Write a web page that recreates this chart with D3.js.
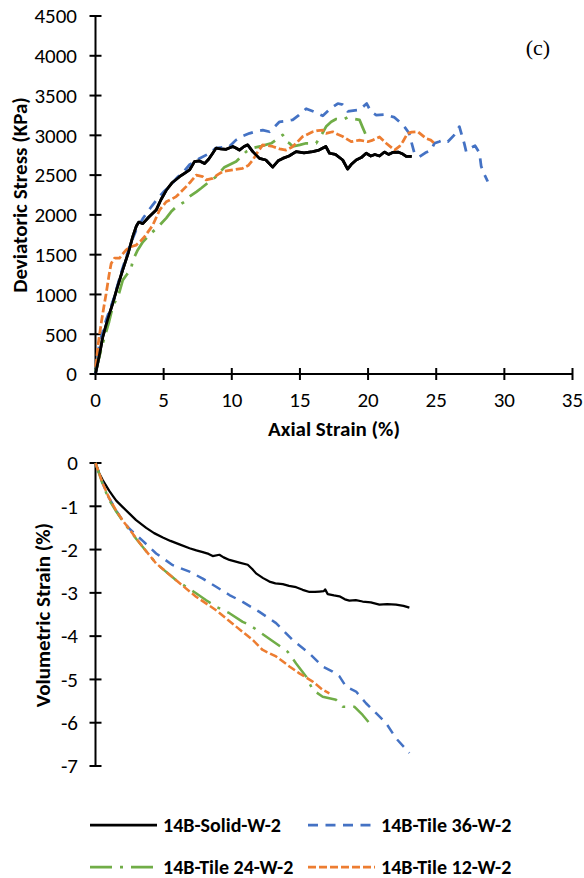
<!DOCTYPE html>
<html>
<head>
<meta charset="utf-8">
<script src="https://cdn.jsdelivr.net/npm/d3@7"></script>
<style>
  html, body { margin: 0; padding: 0; background: #fff; }
  svg { display: block; }
  text { font-family: "Carlito", "Calibri", "Lato", "Open Sans", sans-serif; fill: #000; }
</style>
</head>
<body>
<svg id="chart" width="584" height="878"></svg>
<script>
// ---------- DATA ----------
const seriesNames = ["14B-Solid-W-2", "14B-Tile 36-W-2", "14B-Tile 24-W-2", "14B-Tile 12-W-2"];
const xTicks = [0, 5, 10, 15, 20, 25, 30, 35];
const stressTicks = [0, 500, 1000, 1500, 2000, 2500, 3000, 3500, 4000, 4500];
const volTicks = [0, -1, -2, -3, -4, -5, -6, -7];

// Deviatoric stress (KPa) vs axial strain (%)
const stressSolid = [[0,0],[0.3,250],[0.54,470],[0.9,690],[1.27,890],[1.6,1090],[2.0,1310],[2.4,1520],[2.74,1730],[3.0,1860],[3.18,1910],[3.47,1890],[3.9,1970],[4.45,2060],[4.8,2190],[5.19,2310],[5.6,2400],[6.16,2480],[6.5,2520],[6.9,2565],[7.26,2670],[7.6,2680],[8.0,2645],[8.3,2700],[8.6,2775],[8.85,2840],[9.2,2830],[9.59,2825],[10.07,2860],[10.3,2840],[10.56,2815],[10.9,2860],[11.17,2880],[11.54,2795],[12.03,2710],[12.5,2690],[13.0,2600],[13.4,2680],[13.74,2710],[14.2,2740],[14.72,2795],[15.3,2780],[15.94,2795],[16.4,2815],[16.9,2860],[17.17,2775],[17.6,2760],[18.14,2690],[18.5,2575],[18.8,2640],[19.13,2690],[19.5,2720],[19.86,2775],[20.2,2740],[20.5,2760],[20.84,2740],[21.2,2790],[21.5,2760],[21.8,2785],[22.2,2790],[22.55,2765],[22.8,2735],[23.2,2735]];
const stressTile36 = [[0,0],[0.29,390],[0.8,690],[1.39,970],[1.8,1230],[2.25,1470],[2.6,1650],[2.98,1810],[3.5,1960],[4.0,2080],[4.45,2180],[5.0,2290],[5.43,2355],[6.0,2470],[6.4,2530],[6.9,2630],[7.63,2710],[8.2,2760],[8.85,2840],[9.3,2850],[9.83,2860],[10.3,2940],[10.8,2990],[11.3,3025],[11.8,3050],[12.27,3065],[12.77,3045],[13.1,3100],[13.5,3170],[14.0,3180],[14.47,3195],[14.9,3250],[15.46,3335],[16.0,3300],[16.68,3245],[17.2,3330],[17.78,3400],[18.14,3385],[18.5,3300],[18.9,3310],[19.37,3320],[19.9,3400],[20.2,3300],[20.6,3255],[21.3,3260],[21.94,3225],[22.3,3170],[22.7,3100],[23.0,3030],[23.4,2775],[23.77,2730],[24.2,2780],[24.6,2810],[24.87,2900],[25.2,2920],[25.5,2940],[25.85,2920],[26.3,3000],[26.7,3110],[27.07,2890],[27.2,2795],[27.5,2840],[27.85,2870],[28.17,2780],[28.3,2610],[28.5,2520],[28.78,2420]];
const stressTile24 = [[0,30],[0.54,390],[1.0,660],[1.27,850],[1.71,1005],[2.0,1180],[2.3,1250],[2.62,1330],[2.74,1430],[3.1,1560],[3.47,1660],[4.08,1770],[4.57,1845],[5.19,1960],[5.6,2050],[5.92,2100],[6.53,2165],[6.9,2230],[7.4,2290],[7.75,2335],[8.3,2410],[8.85,2480],[9.46,2600],[10.32,2670],[11.06,2795],[11.54,2840],[12.16,2865],[12.89,2900],[13.3,2950],[13.74,3005],[14.0,2920],[14.23,2900],[14.47,2860],[15.0,2880],[15.46,2900],[16.19,2900],[16.5,2980],[16.92,3110],[17.3,3170],[17.66,3205],[18.14,3195],[18.5,3225],[18.9,3210],[19.37,3195],[19.6,3100],[19.8,3020]];
const stressTile12 = [[0,90],[0.05,130],[0.2,380],[0.42,640],[0.6,830],[0.78,1010],[1.0,1250],[1.15,1390],[1.39,1455],[1.76,1455],[2.0,1510],[2.25,1560],[2.6,1600],[2.98,1620],[3.3,1670],[3.6,1725],[4.2,1870],[4.7,2060],[5.19,2165],[5.6,2200],[5.92,2230],[6.16,2270],[6.65,2355],[7.0,2420],[7.39,2500],[7.87,2480],[8.12,2440],[8.6,2460],[9.0,2510],[9.34,2545],[10.07,2565],[10.8,2585],[11.2,2620],[11.54,2690],[11.9,2790],[12.27,2880],[13.0,2860],[13.5,2830],[13.99,2815],[14.4,2850],[14.72,2900],[15.2,2985],[15.46,3005],[15.94,3045],[16.3,3060],[16.68,3065],[16.92,3025],[17.4,3045],[17.8,3010],[18.14,2985],[18.76,2920],[19.37,2940],[19.98,2920],[20.35,2940],[20.84,2980],[21.33,2900],[21.94,2815],[22.3,2860],[22.55,2920],[22.9,3025],[23.2,3040],[23.65,3045],[24.26,2960],[24.6,2940],[24.87,2900]];

// Volumetric strain (%) vs axial strain (%)
const volSolid = [[0,0],[0.29,-0.25],[0.54,-0.40],[0.73,-0.5],[1.0,-0.64],[1.27,-0.76],[1.52,-0.87],[2.0,-1.02],[2.49,-1.17],[2.98,-1.32],[3.72,-1.5],[4.3,-1.62],[4.94,-1.72],[5.5,-1.8],[6.16,-1.88],[6.9,-1.97],[7.4,-2.02],[7.87,-2.06],[8.3,-2.1],[8.6,-2.15],[9.09,-2.12],[9.4,-2.18],[9.83,-2.24],[10.56,-2.3],[11.17,-2.35],[11.5,-2.45],[11.78,-2.55],[12.3,-2.66],[12.76,-2.74],[13.2,-2.78],[13.74,-2.8],[14.2,-2.84],[14.72,-2.87],[15.2,-2.93],[15.7,-2.98],[16.1,-2.98],[16.43,-2.97],[16.75,-2.96],[16.85,-2.92],[17.04,-3.03],[17.5,-3.06],[17.9,-3.08],[18.3,-3.15],[18.63,-3.18],[19.1,-3.17],[19.6,-3.2],[20.2,-3.22],[20.83,-3.27],[21.4,-3.26],[22.05,-3.27],[22.6,-3.3],[23.03,-3.34]];
const volTile36 = [[0,0],[0.54,-0.48],[0.98,-0.8],[1.52,-1.1],[2.0,-1.33],[2.49,-1.52],[2.98,-1.66],[3.47,-1.8],[4.45,-2.09],[5.67,-2.36],[6.9,-2.51],[7.87,-2.67],[8.85,-2.86],[9.83,-3.05],[10.8,-3.21],[12.03,-3.44],[13.25,-3.7],[14.47,-4.09],[15.7,-4.4],[16.67,-4.7],[17.4,-4.82],[17.9,-4.93],[18.39,-5.17],[19.12,-5.28],[19.85,-5.55],[20.59,-5.78],[21.32,-6.01],[22.05,-6.36],[23.03,-6.7]];
const volTile24 = [[0,0],[0.54,-0.5],[0.98,-0.84],[1.52,-1.12],[2.0,-1.34],[2.49,-1.55],[2.98,-1.75],[3.47,-1.94],[4.45,-2.32],[5.92,-2.71],[7.38,-3.01],[8.12,-3.17],[8.85,-3.32],[9.83,-3.47],[10.8,-3.67],[11.3,-3.74],[12.03,-3.9],[13.25,-4.17],[14.1,-4.36],[14.72,-4.63],[15.45,-4.93],[15.94,-5.24],[16.67,-5.4],[17.65,-5.47],[18.14,-5.63],[18.99,-5.63],[19.6,-5.82],[20.1,-6.01]];
const volTile12 = [[0,0],[0.54,-0.48],[0.98,-0.8],[1.52,-1.1],[2.0,-1.33],[2.49,-1.53],[2.98,-1.74],[3.47,-1.94],[4.45,-2.32],[5.92,-2.71],[7.38,-3.09],[8.85,-3.4],[10.32,-3.78],[11.54,-4.09],[12.27,-4.32],[13.25,-4.47],[14.23,-4.7],[14.96,-4.86],[15.94,-5.05],[16.67,-5.24],[17.16,-5.32]];

// ---------- STYLE ----------
const colors = ["#000000", "#4472C4", "#70AD47", "#ED7D31"];
const dashes = [null, "10,7.5", "22,8,3,8", "8,3"];

const svg = d3.select("#chart");

const x = d3.scaleLinear().domain([0, 35]).range([95.5, 572.5]);
const yTop = d3.scaleLinear().domain([0, 4500]).range([374, 16]);
const yBot = d3.scaleLinear().domain([0, -7]).range([463, 766]);

function crossTicks(g, scale, vals, orient, pos) {
  vals.forEach(v => {
    if (orient === "y") {
      g.append("line").attr("x1", pos - 6).attr("x2", pos + 6)
        .attr("y1", scale(v)).attr("y2", scale(v))
        .attr("stroke", "#000").attr("stroke-width", 2);
    } else {
      g.append("line").attr("y1", pos - 6).attr("y2", pos + 6)
        .attr("x1", scale(v)).attr("x2", scale(v))
        .attr("stroke", "#000").attr("stroke-width", 2);
    }
  });
}

// ---------- TOP CHART ----------
const gTop = svg.append("g");
gTop.append("line").attr("x1", x(0)).attr("x2", x(0)).attr("y1", yTop(0)).attr("y2", yTop(4500))
  .attr("stroke", "#000").attr("stroke-width", 2);
crossTicks(gTop, yTop, stressTicks, "y", x(0));
gTop.selectAll("text.yt").data(stressTicks).enter().append("text")
  .attr("x", 77).attr("y", d => yTop(d)).attr("dy", "0.35em")
  .attr("text-anchor", "end").attr("font-size", 21).text(d => d);
gTop.append("line").attr("x1", x(0)).attr("x2", x(35)).attr("y1", yTop(0)).attr("y2", yTop(0))
  .attr("stroke", "#000").attr("stroke-width", 2);
crossTicks(gTop, x, xTicks, "x", yTop(0));
gTop.selectAll("text.xt").data(xTicks).enter().append("text")
  .attr("x", d => x(d)).attr("y", 407)
  .attr("text-anchor", "middle").attr("font-size", 21).text(d => d);
gTop.append("text").attr("x", 334).attr("y", 436).attr("text-anchor", "middle")
  .attr("font-size", 21).attr("font-weight", "bold").text("Axial Strain (%)");
gTop.append("text").attr("transform", "translate(27,195) rotate(-90)").attr("text-anchor", "middle")
  .attr("font-size", 21).attr("font-weight", "bold").text("Deviatoric Stress (KPa)");
gTop.append("text").attr("x", 538).attr("y", 55).attr("text-anchor", "middle")
  .style("font-family", "'Liberation Serif', 'Times New Roman', serif")
  .attr("font-size", 22).text("(c)");

const lineTop = d3.line().x(d => x(d[0])).y(d => yTop(d[1]));
[stressSolid, stressTile36, stressTile24, stressTile12].forEach((s, i) => {
  gTop.append("path").datum(s).attr("d", lineTop)
    .attr("fill", "none").attr("stroke", colors[i]).attr("stroke-width", 2.75)
    .attr("stroke-dasharray", dashes[i]).attr("stroke-linejoin", "round");
});
gTop.append("path").datum(stressSolid).attr("d", lineTop)
  .attr("fill", "none").attr("stroke", colors[0]).attr("stroke-width", 2.75).attr("stroke-linejoin", "round");

// ---------- BOTTOM CHART ----------
const gBot = svg.append("g");
gBot.append("line").attr("x1", x(0)).attr("x2", x(0)).attr("y1", yBot(0)).attr("y2", yBot(-7))
  .attr("stroke", "#000").attr("stroke-width", 2);
crossTicks(gBot, yBot, volTicks, "y", x(0));
gBot.selectAll("text.vt").data(volTicks).enter().append("text")
  .attr("x", 78).attr("y", d => yBot(d)).attr("dy", "0.35em")
  .attr("text-anchor", "end").attr("font-size", 21).text(d => d < 0 ? "-" + Math.abs(d) : d);
gBot.append("text").attr("transform", "translate(50,615) rotate(-90)").attr("text-anchor", "middle")
  .attr("font-size", 21).attr("font-weight", "bold").text("Volumetric Strain (%)");

const lineBot = d3.line().x(d => x(d[0])).y(d => yBot(d[1]));
[volSolid, volTile36, volTile24, volTile12].forEach((s, i) => {
  gBot.append("path").datum(s).attr("d", lineBot)
    .attr("fill", "none").attr("stroke", colors[i]).attr("stroke-width", i === 0 ? 2.25 : 2.5)
    .attr("stroke-dasharray", dashes[i]).attr("stroke-linejoin", "round");
});

// ---------- LEGEND ----------
const legendPos = [[90, 825], [308, 825], [90, 867], [308, 867]];
const gLeg = svg.append("g");
seriesNames.forEach((name, i) => {
  const [lx, ly] = legendPos[i];
  gLeg.append("line").attr("x1", lx).attr("x2", lx + 67).attr("y1", ly).attr("y2", ly)
    .attr("stroke", colors[i]).attr("stroke-width", 2.75).attr("stroke-dasharray", dashes[i]);
  gLeg.append("text").attr("x", lx + 73).attr("y", ly).attr("dy", "0.35em")
    .attr("font-size", 20).attr("font-weight", "bold").text(name);
});
</script>
</body>
</html>
